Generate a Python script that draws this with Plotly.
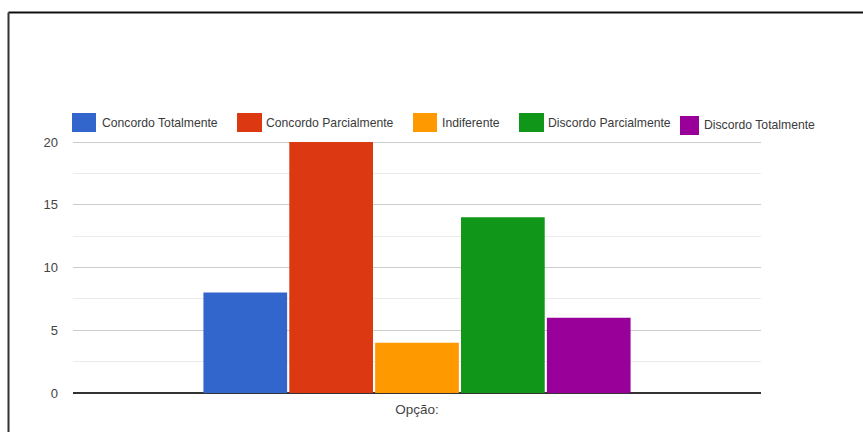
import plotly.graph_objects as go

categories = ["Opção:"]
series_names = ["Concordo Totalmente", "Concordo Parcialmente", "Indiferente",
                "Discordo Parcialmente", "Discordo Totalmente"]
series_values = [8, 20, 4, 14, 6]
colors = ["#3366cc", "#dc3912", "#ff9900", "#109618", "#990099"]
y_ticks = [0, 5, 10, 15, 20]

FONT = "Liberation Sans, Arial, sans-serif"
W, H = 863, 432
L, R, T, B = 73, 761, 110, 393

def px(x):
    return (x - L) / (R - L)

def py(y):
    return (B - y) / (B - T)

fig = go.Figure()
for name, val, col in zip(series_names, series_values, colors):
    fig.add_trace(go.Bar(x=categories, y=[val], name=name, marker_color=col,
                         marker_line_width=0, showlegend=False))

shapes = []
annotations = []
# custom legend
sw_x = [72, 237, 413, 519, 680]
sw_w = [24, 25, 24, 25, 19]
sw_y = [(113, 132), (113, 132), (113, 132), (113, 132), (116, 135)]
tx_x = [101, 265, 441, 547, 703]
for i, name in enumerate(series_names):
    shapes.append(dict(type="rect", xref="paper", yref="paper",
                       x0=px(sw_x[i]), x1=px(sw_x[i] + sw_w[i]),
                       y0=py(sw_y[i][1]), y1=py(sw_y[i][0]),
                       fillcolor=colors[i], line=dict(width=0)))
    annotations.append(dict(xref="paper", yref="paper", x=px(tx_x[i]),
                            y=py((sw_y[i][0] + sw_y[i][1]) / 2), text=name,
                            showarrow=False, xanchor="left", yanchor="middle",
                            xshift=-1,
                            font=dict(family=FONT, size=12.2, color="#3a3a3a")))
# border
shapes.append(dict(type="line", xref="paper", yref="paper",
                   x0=px(8.5), x1=px(863), y0=py(12.5), y1=py(12.5),
                   line=dict(color="#111111", width=2)))
shapes.append(dict(type="line", xref="paper", yref="paper",
                   x0=px(8.5), x1=px(8.5), y0=py(12.5), y1=py(432),
                   line=dict(color="#333333", width=2)))

fig.update_layout(
    width=W, height=H,
    margin=dict(l=L, r=W - R, t=T, b=H - B),
    paper_bgcolor="white", plot_bgcolor="white",
    barmode="group", bargap=0.376, bargroupgap=0.025,
    showlegend=False,
    shapes=shapes, annotations=annotations,
    font=dict(family=FONT, size=13, color="#444444"),
    xaxis=dict(showgrid=False, ticks="", tickfont=dict(size=13.5, color="#444444"),
               showline=False, ticklabelstandoff=6),
    yaxis=dict(range=[0, 22.55], tickvals=y_ticks, showgrid=True,
               gridcolor="#cccccc", gridwidth=1,
               minor=dict(dtick=2.5, tick0=0, showgrid=True, gridcolor="#ebebeb"),
               zeroline=True, zerolinecolor="#333333", zerolinewidth=2,
               tickfont=dict(size=13, color="#444444"), ticks="",
               ticklabelstandoff=14),
)

fig.write_html("out.html")
